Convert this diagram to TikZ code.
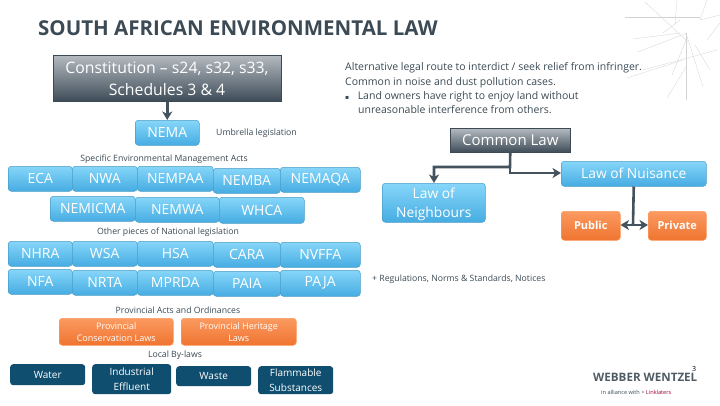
\documentclass[tikz,border=0pt]{standalone}
\usepackage{fontspec}
\setmainfont{Open Sans}
\newfontfamily\symfont{DejaVu Sans}
\usetikzlibrary{arrows.meta,shadings}
\definecolor{txtdark}{HTML}{3B4A54}
\definecolor{bluetop}{HTML}{86D6F9}
\definecolor{bluebot}{HTML}{46ACE2}
\definecolor{blueedge}{HTML}{4B9CC6}
\definecolor{ortop}{HTML}{FB9A60}
\definecolor{orbot}{HTML}{EF7430}
\definecolor{navy}{HTML}{0F4E6E}
\definecolor{arrowcol}{HTML}{44525E}
\definecolor{greytop}{HTML}{B4BAC0}
\definecolor{greybot}{HTML}{3E4C58}
\tikzset{
  x=1pt,y=-1pt,
  bluebox/.style={rounded corners=3pt,draw=blueedge,line width=.5pt,top color=bluetop,bottom color=bluebot},
  orbox/.style={rounded corners=3pt,draw=ortop,line width=.5pt,top color=ortop,bottom color=orbot},
  navybox/.style={rounded corners=3pt,fill=navy},
  greybox/.style={draw=txtdark,line width=.5pt,top color=greytop,bottom color=greybot},
  lbl/.style={text=txtdark,font=\fontsize{8.7}{10}\selectfont,inner sep=0pt},
  conn/.style={draw=arrowcol,line width=2.6pt,-{Stealth[length=8.5pt,width=10pt,inset=2.5pt]}},
  connplain/.style={draw=arrowcol,line width=2.6pt},
  twig/.style={draw=gray!35,line width=.3pt},
}
\newcommand{\bx}[6][bluebox]{\node[#1,minimum width=#4-#3,minimum height=#6-#5,inner sep=0pt,anchor=north west] (#2) at (#3,#5) {};}
\begin{document}
\begin{tikzpicture}
\useasboundingbox (0,0) rectangle (720,405);
% decoration
\foreach \a/\b/\c/\d in {686/33/686/100,625/17/700/17,645/2/688/42,633/39/680/33,638/52/687/33,643/70/717/50,700/20/707/0,700/20/720/15,667/98/686/67,686/33/703/87,627/78/683/60,663/33/680/20,707/40/720/23,677/0/675/24,686/40/672/75,695/45/710/70}
  \draw[twig] (\a,\b) -- (\c,\d);
% title
\node[anchor=west,inner sep=0pt,text=txtdark,font=\fontsize{20.5}{22}\selectfont\bfseries] (title) at (38,28) {SOUTH AFRICAN ENVIRONMENTAL LAW};
% left column
\bx[greybox]{const}{53}{281}{55}{101}
\node[text=white,align=center,font=\fontsize{15.8}{22.5}\selectfont] (constt) at (167,79) {Constitution – s24, s32, s33,\\Schedules 3 \& 4};
\bx{nema}{135}{199}{120}{145}
\node[text=white,font=\fontsize{14}{16}\selectfont] at (nema) {NEMA};
\draw[conn] (const.south) -- (nema.north);
\node[lbl,anchor=west] (umb) at (216,133) {Umbrella legislation};
\node[lbl] (spec) at (164,159) {Specific Environmental Management Acts};
\newcommand{\lawbox}[6]{\bx{#1}{#2}{#3}{#4}{#5}\node[text=white,font=\fontsize{14}{15}\selectfont] at (#1) {#6};}
\lawbox{eca}{8}{72}{166}{191}{ECA}
\lawbox{nwa}{72}{137}{166}{191}{NWA}
\lawbox{nempaa}{137}{213}{166}{191}{NEMPAA}
\lawbox{nemba}{213}{280}{168}{193}{NEMBA}
\lawbox{nemaqa}{280}{360}{167}{192}{NEMAQA}
\lawbox{nemicma}{50}{135}{196}{221}{NEMICMA}
\lawbox{nemwa}{135}{219}{197}{222}{NEMWA}
\lawbox{whca}{219}{304}{197}{223}{WHCA}
\node[lbl] (other) at (168,232.5) {Other pieces of National legislation};
\lawbox{nhra}{8}{72}{241}{266}{NHRA}
\lawbox{wsa}{72}{137}{241}{266}{WSA}
\lawbox{hsa}{137}{213}{241}{266}{HSA}
\lawbox{cara}{213}{280}{242}{267}{CARA}
\lawbox{nvffa}{280}{360}{242}{267}{NVFFA}
\lawbox{nfa}{8}{72}{269}{294}{NFA}
\lawbox{nrta}{72}{137}{270}{295}{NRTA}
\lawbox{mprda}{137}{213}{270}{295}{MPRDA}
\lawbox{paia}{213}{280}{271}{296}{PAIA}
\lawbox{paja}{280}{360}{270}{296}{PAJA}
\node[lbl] (prov) at (178,310) {Provincial Acts and Ordinances};
\bx[orbox]{pcl}{59}{173}{318}{345}
\node[text=white,align=center,font=\fontsize{9}{12}\selectfont] at (pcl) {Provincial\\Conservation Laws};
\bx[orbox]{phl}{181}{296}{318}{345}
\node[text=white,align=center,font=\fontsize{9}{12}\selectfont] at (phl) {Provincial Heritage\\Laws};
\node[lbl] (local) at (175,355.5) {Local By-laws};
\newcommand{\navbox}[6]{\bx[navybox]{#1}{#2}{#3}{#4}{#5}\node[text=white,align=center,font=\fontsize{10}{14.5}\selectfont] at (#1) {#6};}
\navbox{water}{10}{85}{364}{385}{Water}
\navbox{indus}{92}{171}{364}{394}{Industrial\\Effluent}
\navbox{waste}{176}{251}{366}{386}{Waste}
\navbox{flam}{258}{333}{366}{394}{Flammable\\Substances}
% right
\node[anchor=north west,inner sep=0pt,text=txtdark,align=left,font=\fontsize{10.5}{14.3}\selectfont] (alt) at (345,62.5) {Alternative legal route to interdict / seek relief from infringer.\\Common in noise and dust pollution cases.\\[0pt]\hspace*{0pt}{\symfont\fontsize{6}{14.3}\selectfont ▪}\hspace{8.5pt}Land owners have right to enjoy land without\\\hspace*{13pt}unreasonable interference from others.};
\bx[greybox]{common}{450}{570}{128}{152}
\node[text=white,font=\fontsize{15}{15}\selectfont] at (common) {Common Law};
\bx{nuis}{561}{706}{161}{186}
\node[text=white,font=\fontsize{13.8}{15}\selectfont] at (nuis) {Law of Nuisance};
\bx{neigh}{382}{485}{183}{222}
\node[text=white,align=center,font=\fontsize{13.8}{19}\selectfont] at ([yshift=-1.5pt]neigh.center) {Law of\\Neighbours};
\bx[orbox]{public}{561}{620}{211}{240}
\node[text=white,font=\fontsize{11}{12}\selectfont\bfseries] at (public) {Public};
\bx[orbox]{private}{648}{706}{211}{240}
\node[text=white,font=\fontsize{11}{12}\selectfont\bfseries] at (private) {Private};
\coordinate (cj) at (510,173);
\coordinate (nj) at (633,225);
\draw[conn] (common.south) -- (510,167) -- (434,167) -- (434,183);
\draw[conn] (510,167) -- (cj) -- (561,173);
\draw[connplain] (nuis.south) -- (nj);
\draw[conn] (nj) -- (public.east |- nj);
\draw[conn] (nj) -- (private.west |- nj);
\node[lbl,anchor=west] (reg) at (372,279) {+ Regulations, Norms \& Standards, Notices};
% logo
\node[anchor=west,inner sep=0pt,text=txtdark!90,font=\fontsize{11.6}{12}\selectfont\bfseries] (ww) at (593,377) {WEBBER WENTZEL};
\node[inner sep=0pt,text=black,font=\fontsize{7}{8}\selectfont] (pg) at (694,369) {3};
\node[anchor=west,inner sep=0pt,font=\fontsize{5.6}{8}\selectfont,text=txtdark] (ia) at (601,392) {in alliance with > \textcolor{purple!80!black}{Linklaters}};
\end{tikzpicture}
\end{document}
